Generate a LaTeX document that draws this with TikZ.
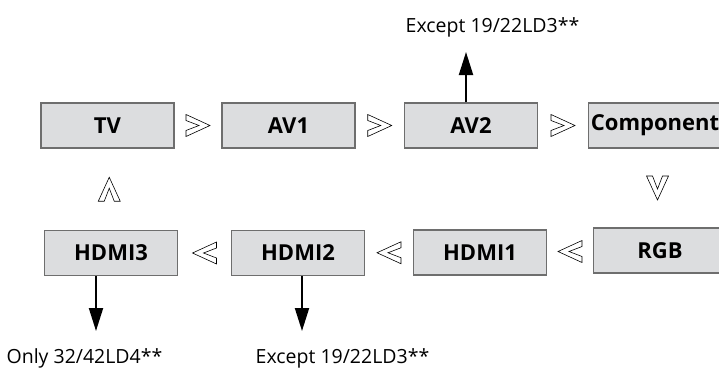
\documentclass[tikz,border=0pt]{standalone}
\usepackage{fontspec}
\setmainfont{Open Sans}
\usetikzlibrary{arrows.meta,calc}
\definecolor{box-gray}{HTML}{DCDDDF}
\definecolor{edge-gray}{HTML}{6E6E6E}

\tikzset{
  inbox/.style={draw=edge-gray, line width=1.5pt, fill=box-gray,
    minimum width=133pt, minimum height=45pt, inner sep=0pt,
    font=\fontsize{22}{26}\selectfont\bfseries},
  note/.style={anchor=base, inner sep=0pt, font=\fontsize{19.5}{23}\selectfont},
  jump/.style={line width=2pt, -{Triangle[width=14pt,length=23pt]}},
  chev/.pic={\draw[line width=0.6pt, fill=white]
    (-12,-11) -- (12,0) -- (-12,11) -- (-12,5) -- (1,0) -- (-12,-5) -- cycle;}
}

\begin{document}
\begin{tikzpicture}[x=1pt, y=-1pt]
    \useasboundingbox (0,0) rectangle (719,367);
    % top row
    \node[inbox] (tv) at (107.5,125.5) {TV};
    \node[inbox] (av1) at (288.5,125.5) {AV1};
    \node[inbox] (av2) at (471,125.5) {AV2};
    \node[inbox] (comp) at (655,125.5) {Component};
    % bottom row
    \node[inbox] (hdmi3) at (111,253) {HDMI3};
    \node[inbox] (hdmi2) at (298,253) {HDMI2};
    \node[inbox] (hdmi1) at (480,252.5) {HDMI1};
    \node[inbox] (rgb) at (660,250.5) {RGB};

    % order marks
    \pic at ($(tv.east)!.5!(av1.west)$) {chev};
    \pic at ($(av1.east)!.5!(av2.west)$) {chev};
    \pic at ($(av2.east)!.5!(comp.west)$) {chev};
    \pic[rotate=-90] at ($(comp.south)!.5!(rgb.north)$) {chev};
    \pic[rotate=180] at ($(rgb.west)!.5!(hdmi1.east)$) {chev};
    \pic[rotate=180] at ($(hdmi1.west)!.5!(hdmi2.east)$) {chev};
    \pic[rotate=180] at ($(hdmi2.west)!.5!(hdmi3.east)$) {chev};
    \pic[rotate=90] at ($(hdmi3.north)!.5!(tv.south)$) {chev};

    % notes
    \node[note] (av2-note) at (492.5,32) {Except 19/22LD3**};
    \node[note] (hdmi3-note) at (84.5,363) {Only 32/42LD4**};
    \node[note] (hdmi2-note) at (342.5,363) {Except 19/22LD3**};

    \coordinate (av2-tip) at (466,52);
    \coordinate (hdmi3-tip) at (96,331);
    \coordinate (hdmi2-tip) at (302,331);
    \draw[jump] (av2.north -| av2-tip) -- (av2-tip);
    \draw[jump] (hdmi3.south -| hdmi3-tip) -- (hdmi3-tip);
    \draw[jump] (hdmi2.south -| hdmi2-tip) -- (hdmi2-tip);
\end{tikzpicture}
\end{document}
